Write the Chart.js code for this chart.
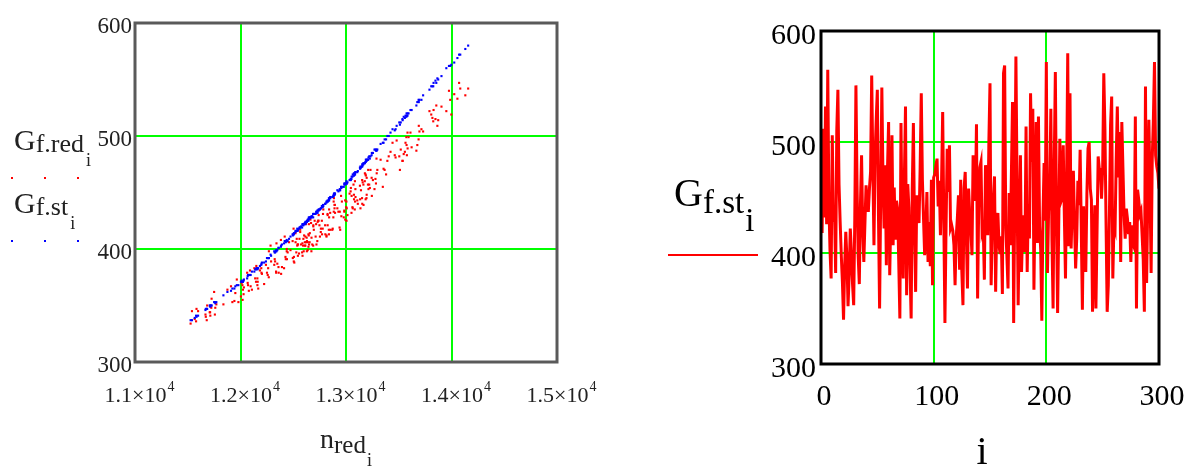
<!DOCTYPE html>
<html>
<head>
<meta charset="utf-8">
<script src="https://cdn.jsdelivr.net/npm/chart.js@4.4.0/dist/chart.umd.min.js"></script>
<style>
  html, body { margin: 0; padding: 0; background: #fff; }
  #wrap { position: relative; width: 1201px; height: 467px; overflow: hidden; }
  #scatter { position: absolute; left: 0; top: 0; filter: blur(0.45px); }
  #series { position: absolute; left: 600px; top: 0; }
</style>
</head>
<body>
<div id="wrap">
  <canvas id="scatter" width="600" height="467"></canvas>
  <canvas id="series" width="601" height="467"></canvas>
</div>
<script>
// G_f.st for i = 0..300
const gSt = [
  505, 418, 512, 432, 532, 426, 565, 446, 402, 377,
  506, 428, 438, 382, 510, 547, 462, 428, 398, 374,
  340, 388, 419, 395, 352, 380, 422, 401, 372, 353,
  432, 551, 460, 397, 372, 443, 488, 423, 392, 427,
  461, 445, 437, 458, 473, 560, 480, 407, 487, 520,
  547, 434, 350, 452, 549, 468, 422, 479, 389, 475,
  518, 380, 436, 506, 407, 459, 412, 447, 440, 392,
  341, 517, 417, 377, 467, 532, 362, 462, 441, 387,
  341, 457, 517, 422, 365, 452, 439, 427, 477, 544,
  466, 431, 398, 419, 455, 392, 428, 388, 466, 371,
  468, 471, 479, 485, 442, 465, 416, 464, 527, 429,
  337, 424, 494, 455, 497, 422, 425, 420, 407, 371,
  414, 431, 452, 385, 466, 383, 353, 458, 473, 416,
  368, 458, 435, 421, 398, 488, 479, 447, 516, 359,
  446, 477, 482, 419, 423, 376, 479, 473, 416, 500,
  553, 371, 418, 449, 469, 365, 428, 436, 407, 399,
  415, 363, 562, 569, 422, 397, 368, 454, 407, 472,
  536, 337, 449, 577, 464, 353, 426, 488, 383, 424,
  434, 401, 514, 383, 444, 413, 544, 482, 530, 367,
  451, 518, 409, 523, 424, 403, 339, 431, 481, 429,
  572, 382, 437, 455, 530, 411, 350, 479, 563, 431,
  346, 424, 503, 446, 449, 497, 433, 377, 467, 580,
  406, 544, 404, 442, 474, 428, 386, 414, 465, 443,
  493, 423, 349, 442, 413, 383, 453, 494, 500, 458,
  448, 347, 399, 443, 350, 419, 487, 476, 475, 449,
  476, 562, 512, 427, 347, 371, 435, 515, 541, 377,
  425, 421, 483, 532, 468, 509, 392, 518, 476, 434,
  413, 440, 431, 417, 428, 392, 425, 408, 405, 523,
  350, 457, 448, 435, 438, 416, 394, 347, 550, 373,
  445, 520, 461, 382, 485, 520, 572, 488, 478, 472,
  458
];

// n_red for i = 0..300
const nRed = [
  13462, 12538, 13505, 12731, 13688, 12638, 14026, 12850, 12383, 12071,
  13441, 12689, 12785, 12160, 13511, 13830, 13052, 12648, 12337, 12063,
  11583, 12203, 12584, 12285, 11761, 12108, 12615, 12362, 12011, 11750,
  12720, 13866, 13004, 12324, 12029, 12837, 13270, 12619, 12251, 12647,
  13046, 12838, 12779, 12984, 13153, 13951, 13226, 12419, 13291, 13574,
  13856, 12738, 11708, 12939, 13848, 13090, 12587, 13188, 12241, 13166,
  13583, 12131, 12761, 13470, 12447, 13014, 12496, 12883, 12804, 12268,
  11598, 13547, 12544, 12096, 13075, 13715, 11876, 13044, 12815, 12199,
  11579, 12984, 13572, 12599, 11942, 12918, 12782, 12650, 13186, 13827,
  13085, 12712, 12320, 12566, 12979, 12269, 12657, 12224, 13064, 12023,
  13089, 13134, 13210, 13245, 12826, 13076, 12521, 13053, 13667, 12680,
  11540, 12621, 13356, 12953, 13380, 12603, 12637, 12573, 12439, 12004,
  12506, 12690, 12945, 12184, 13086, 12160, 11771, 12992, 13152, 12533,
  11965, 13007, 12748, 12588, 12341, 13297, 13194, 12880, 13558, 11838,
  12874, 13185, 13220, 12559, 12610, 12068, 13196, 13137, 12542, 13392,
  13905, 12018, 12555, 12891, 13112, 11923, 12669, 12762, 12426, 12338,
  12522, 11910, 13976, 14056, 12593, 12328, 11980, 12956, 12440, 13142,
  13731, 11527, 12893, 14131, 13061, 11757, 12644, 13279, 12150, 12615,
  12738, 12360, 13537, 12163, 12840, 12505, 13808, 13232, 13676, 11951,
  12928, 13564, 12460, 13622, 12627, 12385, 11566, 12690, 13213, 12673,
  14083, 12139, 12773, 12961, 13690, 12474, 11726, 13208, 13998, 12703,
  11668, 12629, 13422, 12870, 12886, 13366, 12717, 12079, 13083, 14158,
  12429, 13819, 12393, 12825, 13158, 12672, 12197, 12510, 13071, 12826,
  13328, 12610, 11712, 12815, 12503, 12168, 12941, 13349, 13405, 13005,
  12884, 11684, 12349, 12840, 11714, 12566, 13284, 13165, 13154, 12896,
  13179, 13988, 13519, 12655, 11671, 12020, 12741, 13535, 13791, 12090,
  12644, 12596, 13243, 13696, 13107, 13480, 12262, 13577, 13178, 12728,
  12494, 12802, 12695, 12544, 12663, 12258, 12630, 12438, 12413, 13611,
  11723, 12993, 12893, 12753, 12771, 12529, 12290, 11680, 13874, 12032,
  12851, 13593, 13034, 12147, 13255, 13584, 14072, 13289, 13196, 13132,
  13002
];

// G_f.red for i = 0..300
const gRed = [
  483, 403, 482, 424, 497, 406, 537, 432, 408, 368,
  494, 403, 435, 368, 470, 523, 432, 422, 380, 379,
  347, 378, 397, 403, 348, 364, 411, 379, 370, 362,
  404, 509, 442, 391, 360, 417, 453, 422, 379, 412,
  454, 413, 418, 434, 461, 522, 454, 411, 467, 492,
  527, 425, 344, 419, 515, 446, 405, 465, 386, 439,
  503, 383, 415, 481, 397, 430, 392, 442, 413, 375,
  345, 484, 404, 367, 448, 506, 364, 451, 411, 379,
  336, 433, 499, 398, 354, 436, 431, 404, 444, 513,
  460, 411, 386, 415, 428, 398, 414, 369, 436, 364,
  453, 444, 470, 447, 430, 444, 414, 447, 487, 404,
  345, 406, 471, 447, 466, 412, 399, 404, 400, 358,
  393, 420, 417, 381, 442, 374, 351, 443, 445, 409,
  373, 436, 421, 394, 405, 470, 445, 428, 486, 351,
  418, 466, 457, 409, 403, 370, 463, 436, 404, 478,
  526, 368, 396, 436, 440, 353, 423, 418, 393, 379,
  406, 367, 540, 533, 403, 389, 353, 429, 391, 452,
  504, 334, 439, 536, 437, 342, 413, 462, 385, 403,
  425, 384, 478, 371, 428, 389, 519, 470, 492, 361,
  433, 494, 406, 490, 410, 378, 338, 421, 453, 410,
  542, 374, 413, 442, 509, 399, 356, 457, 519, 425,
  342, 398, 486, 417, 445, 470, 422, 363, 435, 542,
  391, 516, 384, 431, 459, 398, 383, 388, 457, 421,
  479, 406, 344, 412, 418, 365, 433, 455, 482, 425,
  433, 350, 387, 435, 341, 417, 458, 457, 440, 432,
  467, 532, 488, 406, 340, 355, 430, 478, 522, 381,
  402, 409, 463, 504, 443, 496, 383, 483, 460, 407,
  407, 421, 417, 394, 426, 377, 407, 398, 383, 503,
  348, 426, 439, 411, 425, 397, 389, 337, 514, 366,
  417, 499, 449, 371, 461, 489, 547, 480, 448, 456,
  437
];

const nRange = [11000, 15000];
const gRange = [300, 600];
const iRange = [0, 300];

const serif = "'Liberation Serif', 'Times New Roman', serif";
const GREEN = '#00ff00';

// draws a Mathcad-style name: main letter, then nested subscripts
function drawName(ctx, x, y, parts, color) {
  ctx.save();
  ctx.fillStyle = color;
  ctx.textAlign = 'left';
  ctx.textBaseline = 'alphabetic';
  let cx = x;
  for (const p of parts) {
    ctx.font = p.size + 'px ' + serif;
    cx += p.dx || 0;
    ctx.fillText(p.text, cx, y + (p.dy || 0));
    cx += ctx.measureText(p.text).width;
  }
  ctx.restore();
}

// box around the plot area
const framePlugin = {
  id: 'frame',
  afterDraw(chart, args, opts) {
    const { ctx, chartArea: a } = chart;
    ctx.save();
    ctx.strokeStyle = opts.color;
    ctx.lineWidth = opts.width;
    ctx.strokeRect(a.left, a.top, a.right - a.left, a.bottom - a.top);
    ctx.restore();
  }
};

// left plot: legend, x tick labels with exponent, x title
const scatterText = {
  id: 'scatterText',
  afterDraw(chart) {
    const ctx = chart.ctx;
    const xs = chart.scales.x;
    const ink = '#222';

    ctx.save();
    ctx.fillStyle = ink;
    ctx.textBaseline = 'alphabetic';
    xs.ticks.forEach(t => {
      const px = xs.getPixelForValue(t.value) + 4;
      const mant = (t.value / 10000).toFixed(1) + '\u00d710';
      ctx.font = '22px ' + serif;
      const w1 = ctx.measureText(mant).width;
      ctx.font = '14px ' + serif;
      const w2 = ctx.measureText('4').width;
      const x0 = px - (w1 + w2) / 2;
      ctx.font = '22px ' + serif;
      ctx.fillText(mant, x0, 402);
      ctx.font = '14px ' + serif;
      ctx.fillText('4', x0 + w1 + 1, 391);
    });
    ctx.restore();

    drawName(ctx, 320, 448, [
      { text: 'n', size: 28 },
      { text: 'red', size: 25, dy: 5 },
      { text: 'i', size: 18, dy: 18, dx: 1 }
    ], ink);

    drawName(ctx, 14, 150, [
      { text: 'G', size: 30 },
      { text: 'f.red', size: 26, dy: 2 },
      { text: 'i', size: 18, dy: 16, dx: 2 }
    ], ink);
    drawName(ctx, 14, 213, [
      { text: 'G', size: 30 },
      { text: 'f.st', size: 26, dy: 2 },
      { text: 'i', size: 18, dy: 16, dx: 2 }
    ], ink);

    ctx.save();
    [12, 45, 78].forEach(x => {
      ctx.fillStyle = '#ff0000';
      ctx.fillRect(x - 1, 177, 2, 2);
      ctx.fillStyle = '#0000ff';
      ctx.fillRect(x - 1, 240, 2, 2);
    });
    ctx.restore();
  }
};

// right plot: y title with legend line, x title
const seriesText = {
  id: 'seriesText',
  afterDraw(chart) {
    const ctx = chart.ctx;
    drawName(ctx, 74, 206, [
      { text: 'G', size: 40 },
      { text: 'f.st', size: 33, dy: 7 },
      { text: 'i', size: 33, dy: 25, dx: 1 }
    ], '#000');

    ctx.save();
    ctx.strokeStyle = '#ff0000';
    ctx.lineWidth = 2;
    ctx.beginPath();
    ctx.moveTo(68, 255);
    ctx.lineTo(158, 255);
    ctx.stroke();

    ctx.fillStyle = '#000';
    ctx.font = '40px ' + serif;
    ctx.textAlign = 'center';
    ctx.textBaseline = 'alphabetic';
    ctx.fillText('i', 382, 464);
    ctx.restore();
  }
};

new Chart(document.getElementById('scatter'), {
  type: 'scatter',
  data: {
    datasets: [
      {
        label: 'G_f.st',
        data: nRed.map((n, i) => ({ x: n, y: gSt[i] })),
        backgroundColor: '#0000ff',
        borderWidth: 0,
        pointStyle: 'rect',
        pointRadius: 1.5,
        order: 1
      },
      {
        label: 'G_f.red',
        data: nRed.map((n, i) => ({ x: n, y: gRed[i] })),
        backgroundColor: '#ff0000',
        borderWidth: 0,
        pointStyle: 'rect',
        pointRadius: 1.5,
        order: 2
      }
    ]
  },
  options: {
    responsive: false,
    animation: false,
    events: [],
    layout: { padding: { top: 23, right: 43, left: 0, bottom: 0 } },
    plugins: {
      legend: { display: false },
      tooltip: { enabled: false },
      frame: { color: '#5a5a5a', width: 3 }
    },
    scales: {
      x: {
        type: 'linear',
        min: nRange[0],
        max: nRange[1],
        ticks: { stepSize: 1000, display: false },
        grid: { color: GREEN, lineWidth: 2, drawTicks: false },
        border: { display: false },
        afterFit(s) { s.height = 105; }
      },
      y: {
        min: gRange[0],
        max: gRange[1],
        ticks: {
          stepSize: 100,
          padding: 3,
          labelOffset: 4,
          color: '#222',
          font: { family: serif, size: 23 }
        },
        grid: { color: GREEN, lineWidth: 2, drawTicks: false },
        border: { display: false },
        afterFit(s) { s.width = 135; }
      }
    }
  },
  plugins: [framePlugin, scatterText]
});

new Chart(document.getElementById('series'), {
  type: 'line',
  data: {
    datasets: [{
      label: 'G_f.st',
      data: gSt.map((g, i) => ({ x: i, y: g })),
      borderColor: '#ff0000',
      borderWidth: 3,
      pointRadius: 0,
      tension: 0
    }]
  },
  options: {
    responsive: false,
    animation: false,
    events: [],
    layout: { padding: { top: 31, right: 42, left: 0, bottom: 0 } },
    plugins: {
      legend: { display: false },
      tooltip: { enabled: false },
      frame: { color: '#000', width: 3 }
    },
    scales: {
      x: {
        type: 'linear',
        min: iRange[0],
        max: iRange[1],
        ticks: {
          stepSize: 100,
          padding: 15,
          labelOffset: 3,
          maxRotation: 0,
          color: '#000',
          font: { family: serif, size: 30 }
        },
        grid: { color: GREEN, lineWidth: 2, drawTicks: false },
        border: { display: false },
        afterFit(s) { s.height = 103; }
      },
      y: {
        min: gRange[0],
        max: gRange[1],
        ticks: {
          stepSize: 100,
          padding: 5,
          labelOffset: 5,
          color: '#000',
          font: { family: serif, size: 30 }
        },
        grid: { color: GREEN, lineWidth: 2, drawTicks: false },
        border: { display: false },
        afterFit(s) { s.width = 221; }
      }
    }
  },
  plugins: [framePlugin, seriesText]
});
</script>
</body>
</html>
